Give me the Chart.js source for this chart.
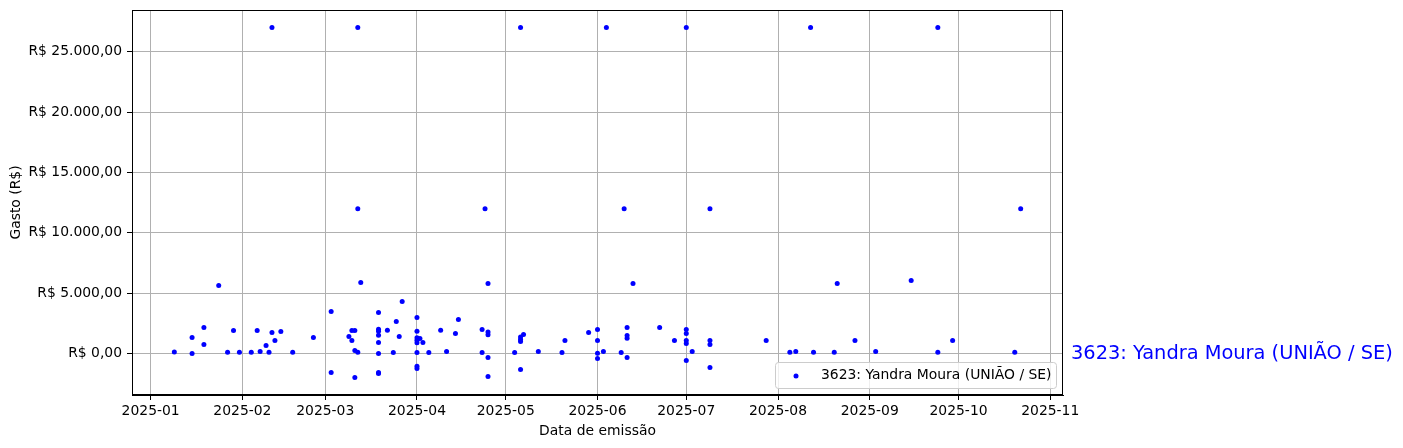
<!DOCTYPE html>
<html>
<head>
<meta charset="utf-8">
<script src="https://cdn.jsdelivr.net/npm/chart.js@4.4.1/dist/chart.umd.min.js"></script>
<style>
  body { margin: 0; background: #fff; }
</style>
</head>
<body>
<canvas id="myChart" width="1403" height="448"></canvas>
<script>
const seriesLabel = '3623: Yandra Moura (UNIÃO / SE)';

// Data de emissão / gasto
const dates = [
  '2025-01-09', '2025-01-15', '2025-01-15', '2025-01-19', '2025-01-19', '2025-01-24', '2025-01-27', '2025-01-29',
  '2025-01-31', '2025-02-04', '2025-02-06', '2025-02-07', '2025-02-09', '2025-02-10', '2025-02-11', '2025-02-11',
  '2025-02-12', '2025-02-14', '2025-02-18', '2025-02-25', '2025-03-03', '2025-03-03', '2025-03-09', '2025-03-10',
  '2025-03-10', '2025-03-11', '2025-03-11', '2025-03-11', '2025-03-12', '2025-03-12', '2025-03-12', '2025-03-13',
  '2025-03-19', '2025-03-19', '2025-03-19', '2025-03-19', '2025-03-19', '2025-03-19', '2025-03-19', '2025-03-19',
  '2025-03-22', '2025-03-24', '2025-03-25', '2025-03-26', '2025-03-27', '2025-04-01', '2025-04-01', '2025-04-01',
  '2025-04-01', '2025-04-01', '2025-04-01', '2025-04-01', '2025-04-01', '2025-04-02', '2025-04-03', '2025-04-05',
  '2025-04-09', '2025-04-11', '2025-04-14', '2025-04-15', '2025-04-23', '2025-04-23', '2025-04-24', '2025-04-25',
  '2025-04-25', '2025-04-25', '2025-04-25', '2025-04-25', '2025-05-04', '2025-05-06', '2025-05-06', '2025-05-06',
  '2025-05-06', '2025-05-06', '2025-05-07', '2025-05-12', '2025-05-20', '2025-05-21', '2025-05-29', '2025-06-01',
  '2025-06-01', '2025-06-01', '2025-06-01', '2025-06-03', '2025-06-04', '2025-06-09', '2025-06-10', '2025-06-11',
  '2025-06-11', '2025-06-11', '2025-06-11', '2025-06-13', '2025-06-22', '2025-06-27', '2025-07-01', '2025-07-01',
  '2025-07-01', '2025-07-01', '2025-07-01', '2025-07-01', '2025-07-03', '2025-07-09', '2025-07-09', '2025-07-09',
  '2025-07-09', '2025-07-28', '2025-08-05', '2025-08-07', '2025-08-12', '2025-08-13', '2025-08-20', '2025-08-21',
  '2025-08-27', '2025-09-03', '2025-09-15', '2025-09-24', '2025-09-24', '2025-09-29', '2025-10-20', '2025-10-22'
];
const values = [
  150, 1340, 20, 2170, 760, 5650, 120, 1920,
  120, 120, 1920, 180, 680, 120, 1750, 27000,
  1090, 1840, 120, 1340, 3490, -1560, 1420, 1090,
  1920, 1920, 265, -1970, 120, 12000, 27000, 5890,
  3410, 2030, 1860, 1530, 925, 20, -1560, -1640,
  1945, 100, 2665, 1420, 4320, 3000, 1860, 1310,
  1120, 900, 100, -1030, -1230, 1260, 925, 100,
  1945, 180, 1670, 2830, 2000, 100, 12000, 5810,
  1800, 1560, -315, -1890, 100, 27000, 1390, 1175,
  1010, -1310, 1590, 180, 100, 1090, 1750, 2000,
  1090, 40, -400, 180, 27000, 100, 12000, 2170,
  1500, 1280, -315, 5810, 2170, 1090, 27000, 2000,
  1670, 1090, 845, -565, 180, 12000, 1090, 760,
  -1140, 1090, 120, 180, 27000, 120, 120, 5810,
  1090, 180, 6060, 27000, 120, 1090, 120, 12000
];

const monthTicks = ['2025-01', '2025-02', '2025-03', '2025-04', '2025-05', '2025-06',
                    '2025-07', '2025-08', '2025-09', '2025-10', '2025-11'];
const yTicks = [0, 5000, 10000, 15000, 20000, 25000];

// date string -> day number
function toDay(s) {
  const p = s.split('-');
  return Date.UTC(+p[0], +p[1] - 1, p[2] ? +p[2] : 1) / 864e5;
}

function formatBRL(v) {
  const parts = Math.abs(v).toFixed(2).split('.');
  const int = parts[0].replace(/\B(?=(\d{3})+(?!\d))/g, '.');
  return (v < 0 ? '-' : '') + 'R$ ' + int + ',' + parts[1];
}

const points = dates.map((d, i) => ({ x: toDay(d), y: values[i] }));

// matplotlib style 5% margins
const xs = points.map(p => p.x);
const xPad = (Math.max(...xs) - Math.min(...xs)) * 0.05;
const yPad = (Math.max(...values) - Math.min(...values)) * 0.05;

const font = { family: 'DejaVu Sans', size: 13.9 };

const framePlugin = {
  id: 'frame',
  afterDatasetsDraw(chart) {
    const { ctx, chartArea: a } = chart;
    ctx.save();
    ctx.strokeStyle = 'black';
    ctx.lineWidth = 1;
    ctx.strokeRect(a.left + 0.5, a.top + 0.5, a.right - a.left - 1, a.bottom - a.top - 1);
    ctx.restore();
  },
  afterDraw(chart) {
    const { ctx } = chart;
    const yScale = chart.scales.y;
    ctx.save();

    // legend box, lower right inside the axes
    const bx = 775.5, by = 362.5, bw = 281, bh = 26, r = 3;
    ctx.beginPath();
    ctx.moveTo(bx + r, by);
    ctx.arcTo(bx + bw, by, bx + bw, by + bh, r);
    ctx.arcTo(bx + bw, by + bh, bx, by + bh, r);
    ctx.arcTo(bx, by + bh, bx, by, r);
    ctx.arcTo(bx, by, bx + bw, by, r);
    ctx.closePath();
    ctx.fillStyle = 'rgba(255,255,255,0.8)';
    ctx.fill();
    ctx.strokeStyle = '#cccccc';
    ctx.lineWidth = 1;
    ctx.stroke();

    ctx.beginPath();
    ctx.arc(796, 376, 2.5, 0, Math.PI * 2);
    ctx.fillStyle = 'blue';
    ctx.fill();

    ctx.font = '13.9px "DejaVu Sans"';
    ctx.fillStyle = 'black';
    ctx.textBaseline = 'middle';
    ctx.textAlign = 'left';
    ctx.fillText(seriesLabel, 821, 375);

    // label to the right of the axes
    ctx.font = '19.4px "DejaVu Sans"';
    ctx.fillStyle = 'blue';
    ctx.fillText(seriesLabel, 1071, yScale.getPixelForValue(0));
    ctx.restore();
  }
};

const ctx = document.getElementById('myChart').getContext('2d');
const chart = new Chart(ctx, {
  type: 'scatter',
  data: {
    datasets: [{
      label: seriesLabel,
      data: points,
      backgroundColor: 'blue',
      borderWidth: 0,
      pointRadius: 2.5,
      pointHoverRadius: 2.5
    }]
  },
  options: {
    responsive: false,
    animation: false,
    layout: { padding: { left: 0, right: 340, top: 10, bottom: 0 } },
    plugins: {
      legend: { display: false },
      tooltip: { enabled: false }
    },
    scales: {
      x: {
        type: 'linear',
        min: Math.min(...xs) - xPad,
        max: Math.max(...xs) + xPad,
        afterBuildTicks: s => { s.ticks = monthTicks.map(m => ({ value: toDay(m) })); },
        afterFit: s => { s.height = 53; s.paddingLeft = 0; s.paddingRight = 0; },
        ticks: {
          autoSkip: false,
          maxRotation: 0,
          color: 'black',
          font: font,
          padding: 3,
          callback: v => new Date(Math.round(v) * 864e5).toISOString().slice(0, 7)
        },
        grid: { color: '#b0b0b0', lineWidth: 1, tickColor: 'black', tickLength: 5, tickWidth: 1 },
        border: { color: 'black', width: 1 },
        title: { display: true, text: 'Data de emissão', color: 'black', font: font, padding: { top: 0, bottom: 8 } }
      },
      y: {
        min: Math.min(...values) - yPad,
        max: Math.max(...values) + yPad,
        afterBuildTicks: s => { s.ticks = yTicks.map(v => ({ value: v })); },
        afterFit: s => { s.width = 132; s.paddingTop = 0; s.paddingBottom = 0; },
        ticks: {
          autoSkip: false,
          color: 'black',
          font: font,
          padding: 5,
          callback: v => formatBRL(v)
        },
        grid: { color: '#b0b0b0', lineWidth: 1, tickColor: 'black', tickLength: 5, tickWidth: 1 },
        border: { color: 'black', width: 1 },
        title: { display: true, text: 'Gasto (R$)', color: 'black', font: font, padding: { top: 8, bottom: 0 } }
      }
    }
  },
  plugins: [framePlugin]
});
</script>
</body>
</html>
